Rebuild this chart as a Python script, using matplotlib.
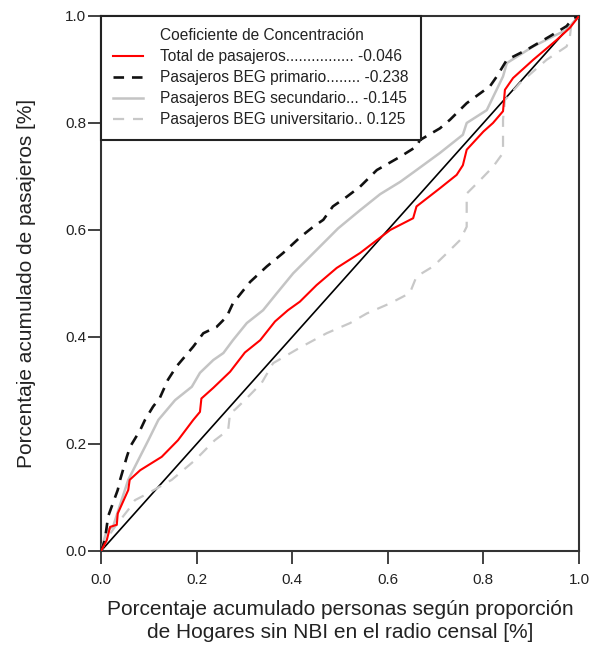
import matplotlib.pyplot as plt
from matplotlib.lines import Line2D

plt.rcParams["font.family"] = ["Liberation Sans", "DejaVu Sans"]

# Lorenz-type curves (x: cumulative persons, y: cumulative passengers)
total_x = [0.0, 0.012, 0.019, 0.033, 0.035, 0.043, 0.057, 0.06, 0.082, 0.127, 0.161, 0.193,
           0.207, 0.21, 0.235, 0.27, 0.301, 0.333, 0.364, 0.391, 0.416, 0.451, 0.493, 0.542,
           0.577, 0.605, 0.653, 0.66, 0.709, 0.744, 0.757, 0.765, 0.8, 0.82, 0.841, 0.845,
           0.862, 0.904, 0.953, 0.981, 1.0]
total_y = [0.0, 0.02, 0.045, 0.049, 0.07, 0.086, 0.114, 0.133, 0.151, 0.176, 0.207, 0.245,
           0.26, 0.285, 0.305, 0.335, 0.371, 0.394, 0.429, 0.45, 0.466, 0.497, 0.529, 0.557,
           0.581, 0.6, 0.622, 0.644, 0.678, 0.703, 0.721, 0.75, 0.784, 0.8, 0.822, 0.862,
           0.884, 0.918, 0.955, 0.978, 1.0]

prim_x = [0.0, 0.008, 0.015, 0.035, 0.04, 0.054, 0.061, 0.082, 0.092, 0.109, 0.123, 0.14,
          0.158, 0.193, 0.214, 0.242, 0.263, 0.276, 0.312, 0.347, 0.381, 0.416, 0.444, 0.465,
          0.485, 0.514, 0.542, 0.577, 0.626, 0.66, 0.667, 0.709, 0.73, 0.765, 0.814, 0.828,
          0.849, 0.891, 0.939, 0.974, 0.988, 1.0]
prim_y = [0.0, 0.02, 0.065, 0.114, 0.133, 0.176, 0.195, 0.226, 0.245, 0.27, 0.286, 0.32,
          0.345, 0.382, 0.407, 0.419, 0.438, 0.463, 0.503, 0.532, 0.557, 0.586, 0.606, 0.619,
          0.644, 0.662, 0.681, 0.712, 0.737, 0.756, 0.768, 0.79, 0.806, 0.837, 0.869, 0.887,
          0.918, 0.937, 0.962, 0.981, 0.996, 1.0]

sec_x = [0.0, 0.012, 0.025, 0.043, 0.057, 0.078, 0.099, 0.12, 0.155, 0.19, 0.207, 0.235,
         0.256, 0.276, 0.305, 0.339, 0.368, 0.402, 0.43, 0.458, 0.496, 0.542, 0.584, 0.626,
         0.66, 0.709, 0.757, 0.765, 0.807, 0.841, 0.849, 0.904, 0.946, 0.974, 1.0]
sec_y = [0.0, 0.039, 0.045, 0.095, 0.133, 0.17, 0.207, 0.245, 0.282, 0.307, 0.333, 0.357,
         0.37, 0.394, 0.426, 0.45, 0.482, 0.519, 0.544, 0.569, 0.603, 0.637, 0.667, 0.69,
         0.712, 0.744, 0.778, 0.8, 0.824, 0.887, 0.912, 0.943, 0.962, 0.974, 1.0]

univ_x = [0.0, 0.015, 0.029, 0.057, 0.071, 0.099, 0.148, 0.197, 0.218, 0.238, 0.266, 0.27,
          0.28, 0.301, 0.336, 0.36, 0.416, 0.472, 0.521, 0.556, 0.605, 0.646, 0.66, 0.695,
          0.724, 0.751, 0.765, 0.765, 0.793, 0.82, 0.841, 0.841, 0.845, 0.877, 0.932, 0.974,
          0.981, 0.985, 1.0]
univ_y = [0.0, 0.027, 0.045, 0.077, 0.095, 0.108, 0.133, 0.17, 0.189, 0.207, 0.226, 0.258,
          0.264, 0.282, 0.314, 0.351, 0.38, 0.407, 0.426, 0.444, 0.463, 0.482, 0.513, 0.532,
          0.557, 0.581, 0.606, 0.668, 0.693, 0.718, 0.744, 0.806, 0.843, 0.875, 0.918, 0.943,
          0.962, 0.993, 1.0]

labels = [
    "Total de pasajeros................ -0.046",
    "Pasajeros BEG primario........ -0.238",
    "Pasajeros BEG secundario... -0.145",
    "Pasajeros BEG universitario.. 0.125",
]
legend_title = "Coeficiente de Concentración"
ticks = [0.0, 0.2, 0.4, 0.6, 0.8, 1.0]

TXT = "#222222"

fig = plt.figure(figsize=(5.9, 6.47), dpi=100)
ax = fig.add_axes([0.1712, 0.1484, 0.8102, 0.8269])

ax.plot([0, 1], [0, 1], color="black", lw=1.2, zorder=2)
h_univ, = ax.plot(univ_x, univ_y, color="#c8c8c8", lw=1.6, ls=(0, (5, 4)), zorder=3)
h_sec, = ax.plot(sec_x, sec_y, color="#c4c4c4", lw=1.8, zorder=3)
h_prim, = ax.plot(prim_x, prim_y, color="#111111", lw=1.9, ls=(0, (4, 3)), zorder=4)
h_tot, = ax.plot(total_x, total_y, color="#ff0000", lw=1.5, zorder=5)

ax.set_xlim(0, 1)
ax.set_ylim(0, 1)
ax.set_xticks(ticks)
ax.set_yticks(ticks)
ax.set_xticklabels([f"{t:.1f}" for t in ticks])
ax.set_yticklabels([f"{t:.1f}" for t in ticks])
ax.tick_params(direction="out", length=9.5, width=1.3, labelsize=11, color="#333333",
               labelcolor=TXT)
ax.tick_params(axis="x", pad=6.5)
ax.tick_params(axis="y", pad=1)
for s in ax.spines.values():
    s.set_linewidth(1.5)
    s.set_color("#333333")

ax.set_xlabel("Porcentaje acumulado personas según proporción\nde Hogares sin NBI en el radio censal [%]",
              fontsize=15, color=TXT, labelpad=9, linespacing=1.3)
ax.set_ylabel("Porcentaje acumulado de pasajeros [%]", fontsize=15, color=TXT, labelpad=21)

# title as an entry without a handle so it lines up with the labels
blank = Line2D([], [], color="none")
leg = ax.legend([blank, h_tot, h_prim, h_sec, h_univ], [legend_title] + labels,
                loc="upper left", borderaxespad=0, fontsize=11.2,
                fancybox=False, edgecolor=TXT, framealpha=1, handlelength=1.9,
                handletextpad=1.1, labelspacing=0.38, borderpad=0.8)
leg.get_frame().set_linewidth(1.5)
for t in leg.get_texts():
    t.set_color(TXT)

fig.savefig("out.png", dpi=100)
